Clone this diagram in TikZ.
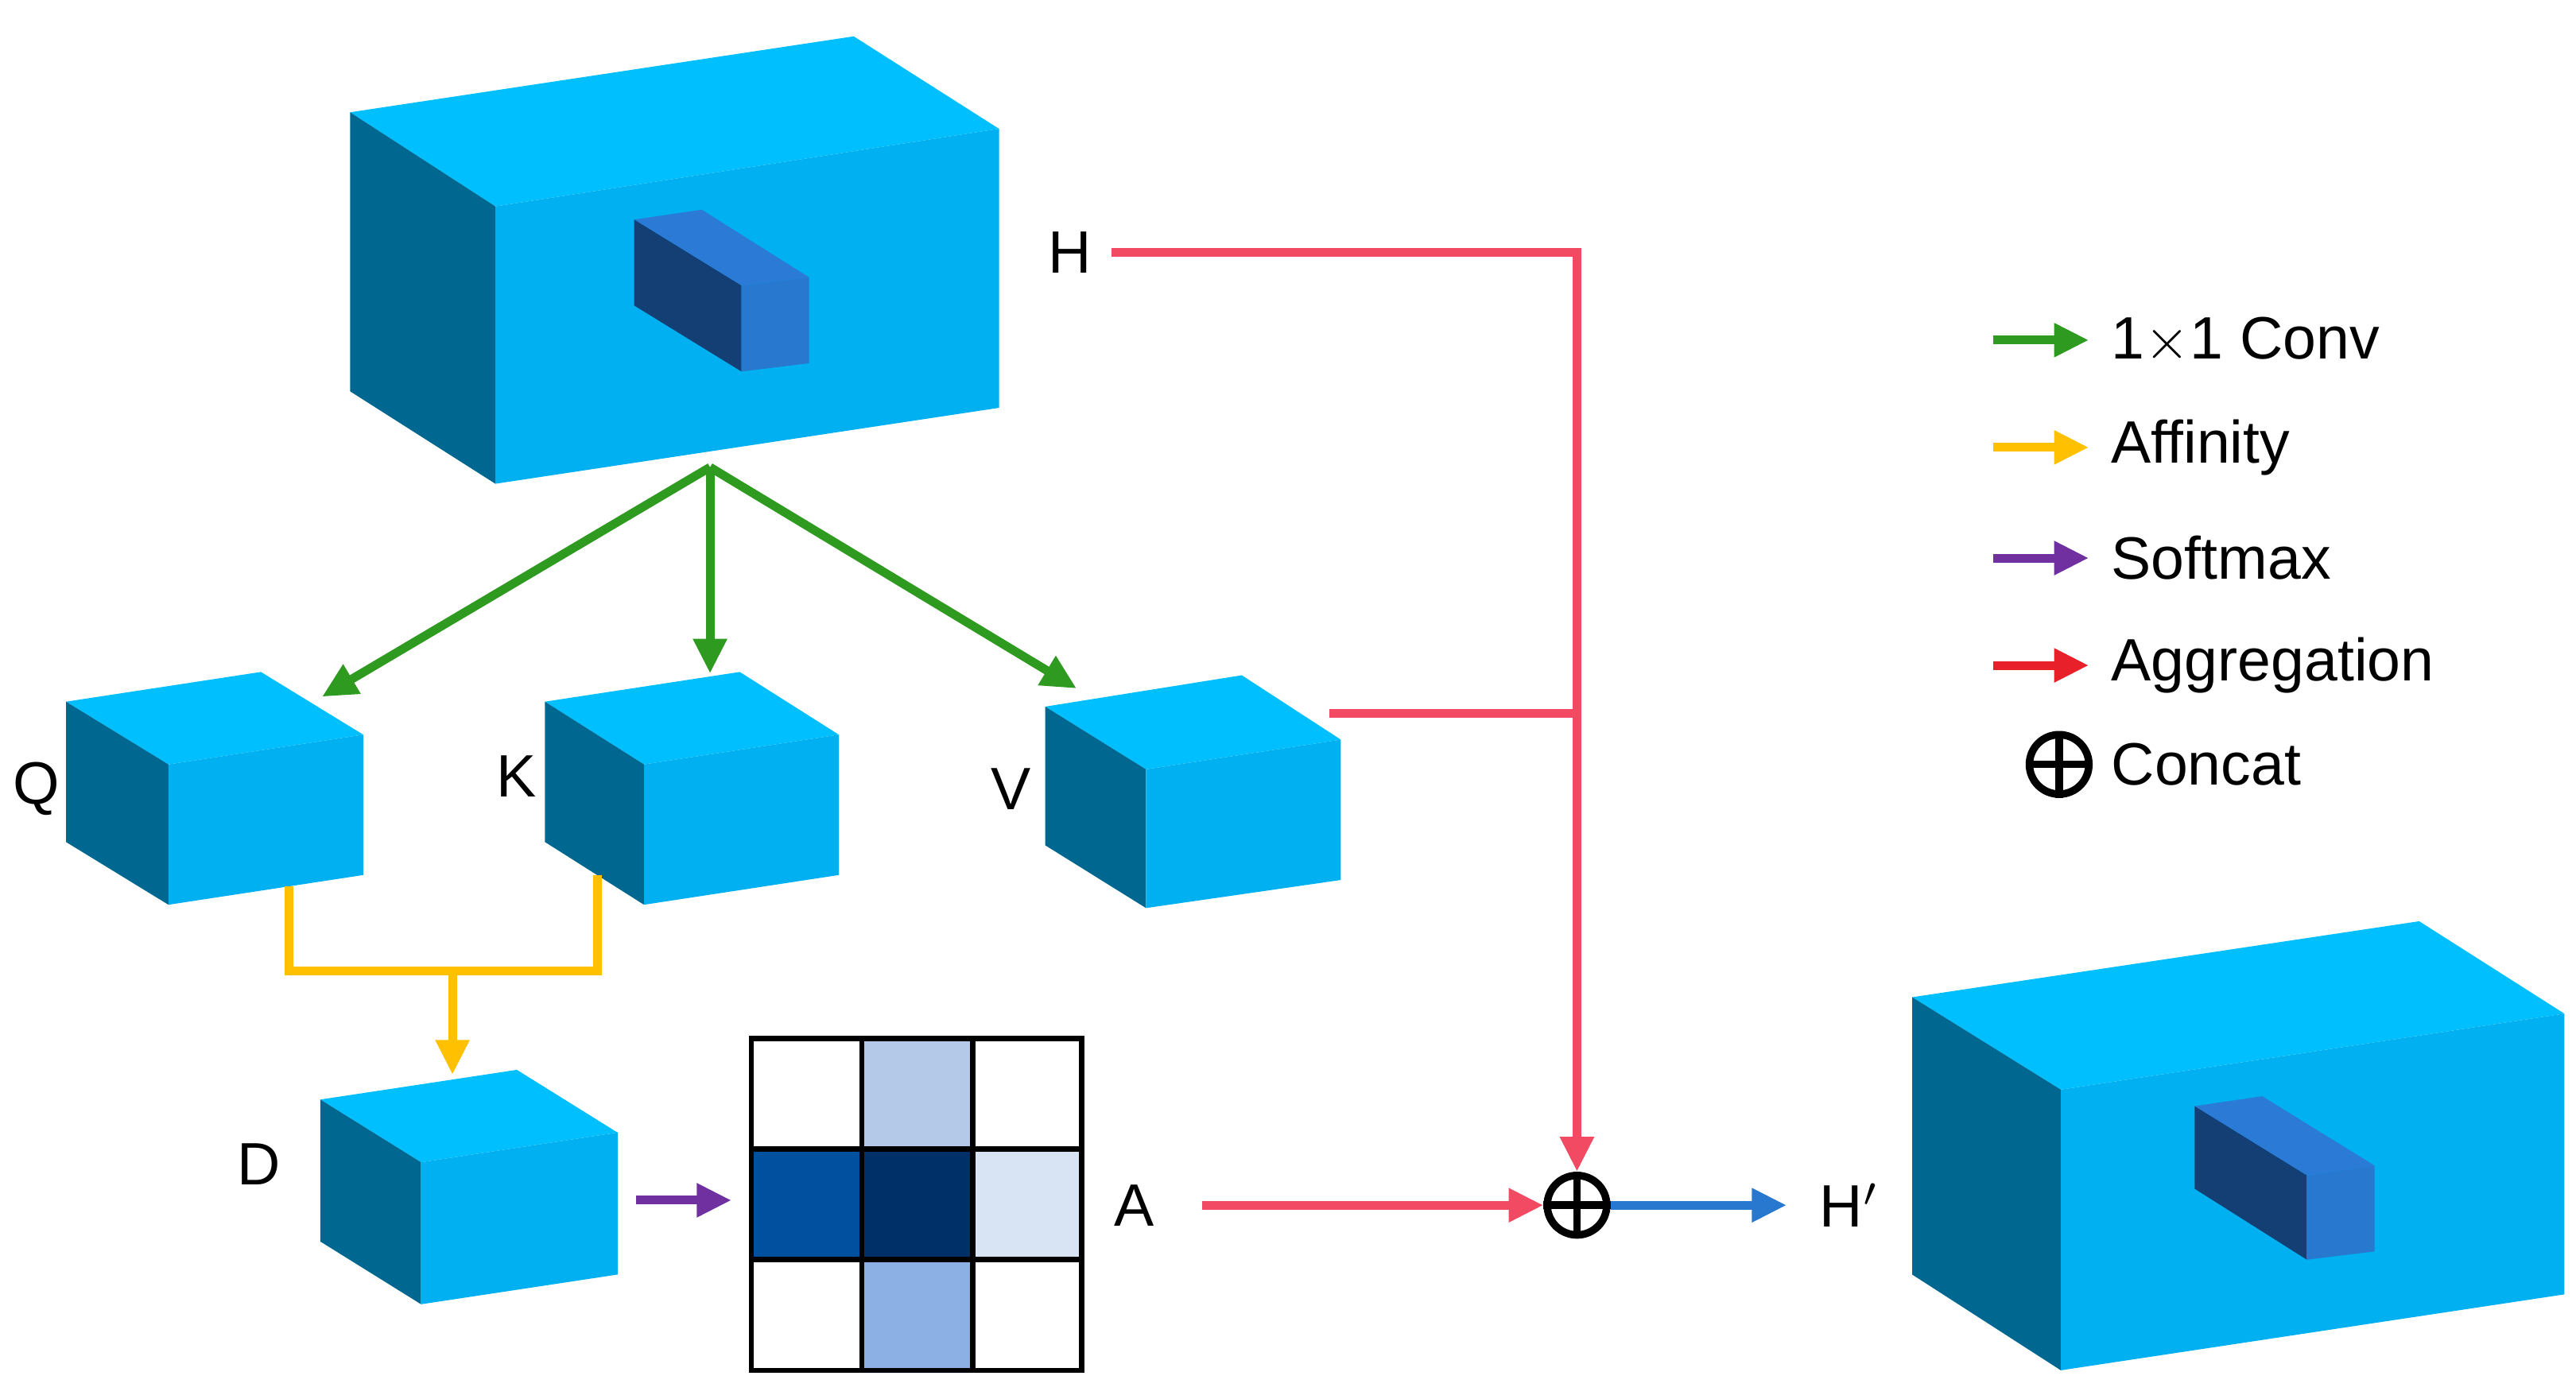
\documentclass[tikz,border=0pt]{standalone}
\usepackage{fontspec}
\setmainfont{Liberation Sans}
\usetikzlibrary{arrows.meta}
\definecolor{ctop}{HTML}{00BFFF}\definecolor{cleft}{HTML}{006890}\definecolor{cfront}{HTML}{00B0F0}
\definecolor{itop}{HTML}{2A7AD6}\definecolor{ileft}{HTML}{143F75}\definecolor{ifront}{HTML}{2878D0}
\definecolor{cgreen}{HTML}{2E9A20}\definecolor{cyel}{HTML}{FFC000}\definecolor{cpur}{HTML}{7030A0}
\definecolor{cred}{HTML}{F24A62}\definecolor{lred}{HTML}{E8202A}\definecolor{cblue}{HTML}{2878D0}
\definecolor{g1}{HTML}{B4C8E8}\definecolor{g2}{HTML}{0050A0}\definecolor{g3}{HTML}{003068}
\definecolor{g4}{HTML}{D8E4F4}\definecolor{g5}{HTML}{8CB0E4}
\tikzset{lab/.style={font=\fontsize{10.3}{12}\selectfont,inner sep=0pt},
 ar/.style={line width=1.5pt,-{Triangle[length=6pt,width=5.5pt]}},
 ln/.style={line width=1.5pt},
 cat/.style={circle,draw,line width=1.3pt,inner sep=0pt,minimum size=0.36cm}}
\begin{document}
\begin{tikzpicture}[x=0.01cm,y=-0.01cm]
\useasboundingbox (0,0) rectangle (1560,847);
% big top block
\fill[ctop] (212,68)--(517,22)--(605,78)--(300,125)--cycle;
\fill[cleft] (212,68)--(300,125)--(300,293)--(212,237)--cycle;
\fill[cfront] (300,125)--(605,78)--(605,247)--(300,293)--cycle;
\fill[itop] (384,133)--(425,127)--(490,168)--(449,173)--cycle;
\fill[ileft] (384,133)--(449,173)--(449,225)--(384,185)--cycle;
\fill[ifront] (449,173)--(490,168)--(490,220)--(449,225)--cycle;
% Q
\fill[ctop] (40,425)--(158,407)--(220,445)--(102,463)--cycle;
\fill[cleft] (40,425)--(102,463)--(102,548)--(40,510)--cycle;
\fill[cfront] (102,463)--(220,445)--(220,530)--(102,548)--cycle;
% K
\fill[ctop] (330,425)--(448,407)--(508,445)--(390,463)--cycle;
\fill[cleft] (330,425)--(390,463)--(390,548)--(330,510)--cycle;
\fill[cfront] (390,463)--(508,445)--(508,530)--(390,548)--cycle;
% V
\fill[ctop] (633,428)--(752,409)--(812,448)--(694,466)--cycle;
\fill[cleft] (633,428)--(694,466)--(694,550)--(633,512)--cycle;
\fill[cfront] (694,466)--(812,448)--(812,533)--(694,550)--cycle;
% D
\fill[ctop] (194,666)--(313,648)--(374,686)--(255,704)--cycle;
\fill[cleft] (194,666)--(255,704)--(255,790)--(194,752)--cycle;
\fill[cfront] (255,704)--(374,686)--(374,772)--(255,790)--cycle;
% big right block
\fill[ctop] (1158,604)--(1465,558)--(1553,614)--(1248,660)--cycle;
\fill[cleft] (1158,604)--(1248,660)--(1248,830)--(1158,772)--cycle;
\fill[cfront] (1248,660)--(1553,614)--(1553,784)--(1248,830)--cycle;
\fill[itop] (1329,670)--(1370,664)--(1438,706)--(1397,712)--cycle;
\fill[ileft] (1329,670)--(1397,712)--(1397,763)--(1329,720)--cycle;
\fill[ifront] (1397,712)--(1438,706)--(1438,758)--(1397,763)--cycle;
% grid
\fill[g1] (522,629) rectangle (589,696);
\fill[g2] (455,696) rectangle (522,763);
\fill[g3] (522,696) rectangle (589,763);
\fill[g4] (589,696) rectangle (655,763);
\fill[g5] (522,763) rectangle (589,830);
\draw[line width=0.9pt] (455,629) rectangle (655,830)
 (522,629)--(522,830) (589,629)--(589,830) (455,696)--(655,696) (455,763)--(655,763);
% labels
\node[lab] (H) at (648,153) {H};
\node[lab] (Q) at (22,478) {Q};
\node[lab] (K) at (313,470) {K};
\node[lab] (V) at (612,478) {V};
\node[lab] (D) at (157,705) {D};
\node[lab] (A) at (687,730) {A};
\node[lab] (Hp) at (1120,730) {H$'$};
% coordinates
\coordinate (src) at (430,283);
\coordinate (qin) at (195,422); \coordinate (kin) at (430,408); \coordinate (vin) at (652,417);
\coordinate (qo) at (175,537); \coordinate (ko) at (362,530); \coordinate (dj) at (274,588); \coordinate (din) at (274,651);
\coordinate (dout) at (385,727); \coordinate (ain) at (443,727);
\coordinate (hs) at (673,153); \coordinate (vs) at (805,432); \coordinate (vj) at (955,432);
\coordinate (as) at (728,730); \coordinate (hpe) at (1082,730);
\node[cat] (cat) at (955,730) {};
\draw[line width=1.3pt] (cat.north)--(cat.south) (cat.west)--(cat.east);
% arrows
\draw[ar,cgreen] (src)--(qin);
\draw[ar,cgreen] (src)--(kin);
\draw[ar,cgreen] (src)--(vin);
\draw[ln,cyel] (qo)|-(dj)-|(ko);
\draw[ar,cyel] (dj)--(din);
\draw[ar,cpur] (dout)--(ain);
\draw[ar,cred] (hs)-|(cat.north);
\draw[ln,cred] (vs)--(vj);
\draw[ar,cred] (as)--(cat.west);
\draw[ar,cblue] (cat.east)--(hpe);
% legend
\foreach \y/\c/\t in {206/cgreen/1$\times$1 Conv,271/cyel/Affinity,338/cpur/Softmax,403/lred/Aggregation}{
 \draw[ar,\c] (1207,\y)--(1265,\y);
 \node[lab,anchor=west] at (1278,\y) {\t};}
\node[cat] (lc) at (1247,463) {};
\draw[line width=1.3pt] (lc.north)--(lc.south) (lc.west)--(lc.east);
\node[lab,anchor=west] (lct) at (1278,463) {Concat};
\end{tikzpicture}
\end{document}
